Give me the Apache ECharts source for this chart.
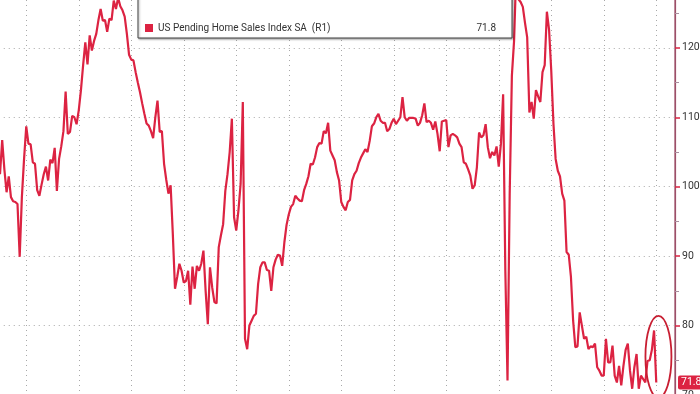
<!DOCTYPE html>
<html><head><meta charset="utf-8">
<script src="https://cdn.jsdelivr.net/npm/echarts@6/dist/echarts.min.js"></script>
<style>html,body{margin:0;padding:0;background:#fff}#c{width:700px;height:394px}</style>
</head><body><div id="c"></div>
<script>
// US Pending Home Sales Index SA, monthly, plotted at month end (index 0 = end of Dec 2000)
const seriesName = 'US Pending Home Sales Index SA  (R1)';
const values = [
  101.8, 106.7, 102.5, 99.2, 101.5, 98.5, 97.9, 97.8, 97.5, 89.9, 98.5, 104.0,
  108.7, 106.2, 106.1, 103.5, 103.3, 99.5, 98.7, 100.3, 101.8, 102.9, 100.9, 103.9,
  103.4, 105.6, 99.4, 104.0, 105.8, 108.0, 113.7, 107.6, 107.9, 110.2, 110.0, 109.0,
  111.0, 113.9, 117.5, 120.8, 117.6, 121.8, 119.6, 121.0, 122.0, 124.0, 125.6, 123.9,
  124.0, 122.3, 124.2, 124.0, 126.8, 125.6, 127.2, 126.0, 125.4, 124.5, 122.0, 119.0,
  118.3, 118.2, 116.5, 115.0, 113.6, 112.0, 110.5, 109.1, 108.8, 108.0, 107.0, 110.0,
  112.4, 107.9, 108.0, 103.3, 101.0, 99.0, 100.2, 93.2, 85.3, 87.0, 88.9, 87.9,
  86.2, 86.4, 87.9, 83.0, 88.5, 85.3, 88.6, 87.9, 88.9, 90.8, 85.0, 80.2,
  88.4, 85.5, 83.4, 83.2, 91.3, 93.0, 94.6, 99.4, 101.8, 105.0, 109.8, 95.6,
  93.7, 96.6, 100.4, 112.2, 78.1, 76.6, 80.0, 80.7, 81.4, 81.7, 86.0, 88.4,
  89.1, 89.1, 88.0, 87.9, 85.0, 88.4, 89.5, 90.2, 90.1, 88.6, 92.0, 94.5,
  96.0, 97.1, 97.5, 98.7, 98.3, 98.0, 97.9, 99.5, 100.4, 101.5, 103.3, 103.2,
  104.2, 105.7, 106.3, 106.2, 108.0, 107.7, 109.2, 105.2, 104.5, 103.8, 102.1, 100.9,
  97.8, 97.1, 96.6, 97.8, 98.1, 100.9, 101.8, 102.3, 103.4, 104.2, 104.8, 105.4,
  105.0, 106.6, 108.7, 109.1, 110.0, 110.5, 109.5, 109.2, 109.2, 108.0, 108.3, 109.2,
  109.8, 109.0, 109.5, 110.0, 112.9, 110.0, 109.5, 109.9, 109.9, 109.9, 109.8, 108.8,
  109.2, 110.3, 112.0, 109.3, 109.5, 109.2, 108.2, 109.4, 107.6, 105.1, 109.4, 109.5,
  109.6, 105.7, 107.4, 107.6, 107.4, 107.1, 106.2, 105.7, 103.5, 103.3, 102.5, 101.6,
  99.7, 100.2, 102.8, 107.8, 107.1, 107.4, 109.0, 105.7, 104.1, 105.0, 104.5, 105.8,
  102.9, 106.2, 113.3, 88.0, 72.1, 99.0, 116.0, 121.0, 131.0, 127.0, 126.6, 125.9,
  123.6, 121.5, 110.7, 112.2, 109.8, 113.9, 113.0, 112.2, 116.5, 117.5, 125.2, 122.6,
  116.7, 109.1, 104.0, 102.3, 101.5, 99.0, 98.0, 90.6, 90.2, 87.0, 80.7, 76.9,
  77.0, 81.9, 80.0, 78.1, 78.4, 76.6, 77.0, 76.9, 77.4, 74.0, 73.5, 72.8,
  72.8, 78.1, 74.7, 74.7, 77.1, 72.8, 71.8, 74.2, 71.4, 74.2, 76.5, 77.4,
  73.5, 70.9, 74.0, 75.9, 70.9, 72.8, 72.3, 71.8, 74.9, 75.0, 76.5, 79.3,
  71.8
];
const yTicks = [70, 80, 90, 100, 110, 120];
const lastValue = values[values.length - 1];

const RED = '#dc2342';
const AXIS = '#9c4f68';
const chart = echarts.init(document.getElementById('c'), null, {renderer: 'canvas'});
const data = values.map((v, i) => [i, v]);

chart.setOption({
  animation: false,
  backgroundColor: '#ffffff',
  textStyle: {fontFamily: 'Roboto, "Liberation Sans", sans-serif'},
  grid: {
    left: -26.25, right: 25, top: -5, bottom: -1, containLabel: false, outerBoundsMode: 'none',
    show: true, borderColor: AXIS, borderWidth: 1.2, backgroundColor: 'rgba(0,0,0,0)'
  },
  xAxis: {
    type: 'value', min: -12, max: 308.57, interval: 24,
    axisLine: {show: false, onZero: false}, axisTick: {show: false}, axisLabel: {show: false},
    splitLine: {show: true, lineStyle: {color: '#a8a8a8', width: 1, type: [1, 4]}}
  },
  yAxis: {
    type: 'value', position: 'right', min: 70, max: 127.61, interval: 10,
    axisLine: {show: true, onZero: false, lineStyle: {color: AXIS, width: 1.2}},
    axisTick: {show: true, inside: false, length: 5, lineStyle: {color: RED, width: 1.5}},
    minorTick: {show: true, splitNumber: 2, length: 4, lineStyle: {color: '#a890a0', width: 1}},
    axisLabel: {
      show: true, color: '#333', fontSize: 10.5, margin: 7,
      formatter: v => (yTicks.indexOf(v) >= 0 ? String(v) : '')
    },
    splitLine: {show: true, lineStyle: {color: '#a8a8a8', width: 1, type: [1, 4]}}
  },
  legend: {
    show: true, left: 138, top: -40,
    padding: [63, 16, 5, 7],
    itemWidth: 8, itemHeight: 8, icon: 'rect', selectedMode: false,
    backgroundColor: '#ffffff', borderColor: '#444', borderWidth: 1,
    shadowColor: 'rgba(0,0,0,0.35)', shadowBlur: 2, shadowOffsetX: 1, shadowOffsetY: 1,
    formatter: name => '{a|' + name + '}{b|' + lastValue.toFixed(1) + '}',
    textStyle: {
      rich: {
        a: {width: 308, fontSize: 10, color: '#333'},
        b: {width: 30, align: 'right', fontSize: 10, color: '#333'}
      }
    },
    data: [seriesName]
  },
  series: [{
    name: seriesName, type: 'line', data: data, clip: false, z: 3,
    showSymbol: false, symbol: 'none',
    itemStyle: {color: RED},
    lineStyle: {color: RED, width: 2.2},
    markLine: {
      silent: true, symbol: 'none', animation: false, z: 20,
      data: [{yAxis: lastValue}],
      lineStyle: {color: 'rgba(0,0,0,0)', width: 0, type: 'solid'},
      label: {
        show: true, position: 'end', distance: 3,
        formatter: () => lastValue.toFixed(1),
        color: '#ffffff', backgroundColor: RED, fontSize: 10.5, opacity: 1,
        padding: [2, 3, 1, 3], borderRadius: 2
      }
    }
  }]
});

// annotation ellipse around the latest reading
const c = chart.convertToPixel({gridIndex: 0}, [values.length, lastValue + 3.7]);
chart.setOption({
  graphic: [{
    type: 'ellipse', z: 100,
    shape: {cx: c[0], cy: c[1], rx: 13, ry: 41},
    style: {fill: 'none', stroke: '#c81e32', lineWidth: 1.8}
  }]
});
</script>
</body></html>
